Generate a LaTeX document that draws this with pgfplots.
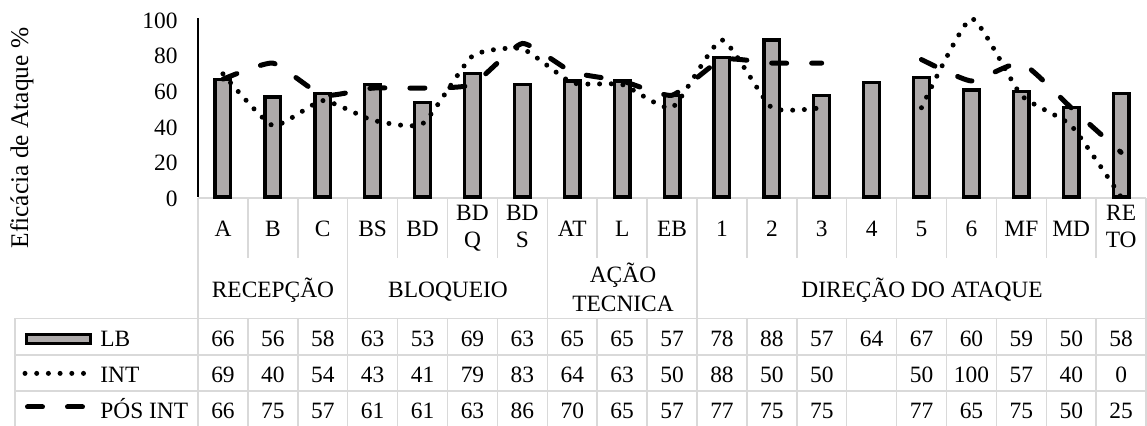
\documentclass[border=0pt]{standalone}
\usepackage{pgfplots}
\pgfplotsset{compat=1.18}
\usepackage{pgfplotstable}
\usepackage{fontspec}
\setmainfont{Liberation Serif}

\definecolor{barfill}{RGB}{174,170,170}
\definecolor{gridgray}{RGB}{217,217,217}

% Eficácia de ataque (%) por categoria: LB, INT e PÓS INT
\pgfplotstableread{
idx LB INT POS
0 66 69 66
1 56 40 75
2 58 54 57
3 63 43 61
4 53 41 61
5 69 79 63
6 63 83 86
7 65 64 70
8 65 63 65
9 57 50 57
10 78 88 77
11 88 50 75
12 57 50 75
13 64 nan nan
14 67 50 77
15 60 100 65
16 59 57 75
17 50 40 50
18 58 0 25
}\efftable

\newcommand\tfont{\fontsize{11.7}{14}\selectfont}
\def\nanval{nan}
\tikzset{
  intline/.style={black, line width=2.5pt, line cap=round, dash pattern=on 0pt off 5.85pt},
  posline/.style={black, line width=2.5pt, line cap=round, dash pattern=on 7.5pt off 12.5pt},
}

\begin{document}
\begin{tikzpicture}
\path[use as bounding box] (0pt,0pt) rectangle (573.5pt,213pt);

% grade da tabela de dados
\begin{scope}[gridgray, line width=0.75pt]
  \draw (99pt,114pt) -- (573pt,114pt);
  \draw (7.5pt,53.75pt) -- (573pt,53.75pt);
  \draw (7.5pt,35.5pt) -- (573pt,35.5pt);
  \draw (7.5pt,17.5pt) -- (573pt,17.5pt);
  \draw (7.5pt,0pt) -- (7.5pt,53.75pt);
  \draw (573pt,0pt) -- (573pt,114pt);
  \draw (99pt,0pt) -- (99pt,114pt);
  \foreach \k in {1,...,18} {
    \pgfmathsetmacro\xk{99+24.95*\k}
    \draw (\xk pt,114pt) -- (\xk pt,84pt);
    \draw (\xk pt,53.75pt) -- (\xk pt,0pt);
  }
  \foreach \k in {3,7,10} {
    \pgfmathsetmacro\xk{99+24.95*\k}
    \draw (\xk pt,84pt) -- (\xk pt,53.75pt);
  }
\end{scope}

\begin{axis}[
  at={(99pt,114.5pt)}, anchor=south west,
  width=474pt, height=89.25pt, scale only axis,
  xmin=-0.5, xmax=18.5, ymin=0, ymax=100,
  clip=false,
  hide x axis,
  axis y line*=left,
  y axis line style={black, line width=0.6pt},
  ytick={0,20,...,100},
  major tick length=0pt,
  yticklabel style={font=\tfont, anchor=east, inner sep=0pt, xshift=-10pt, yshift=-1pt},
  /pgf/number format/assume math mode=true,
  unbounded coords=jump,
]
\addplot[ybar, bar width=7.85pt, fill=barfill, draw=black, line width=1.65pt]
  table[x=idx, y=LB] {\efftable};
\addplot[intline, smooth, tension=0.3] table[x=idx, y=INT] {\efftable};
\addplot[posline, smooth, tension=0.3] table[x=idx, y=POS] {\efftable};
\end{axis}

% título do eixo vertical
\node[rotate=90, font=\fontsize{12.7}{15}\selectfont] at (11pt,144pt) {Eficácia de Ataque \%};

% rótulos das categorias
\begin{scope}[every node/.style={anchor=base, font=\tfont, inner sep=0pt}]
  \foreach \i/\lab in {0/A,1/B,2/C,3/BS,4/BD,7/AT,8/L,9/EB,10/1,11/2,12/3,13/4,14/5,15/6,16/MF,17/MD} {
    \pgfmathsetmacro\xc{99+24.95*(\i+0.5)}
    \node at (\xc pt,94.65pt) {\lab};
  }
  \foreach \i/\la/\lb in {5/BD/Q,6/BD/S,18/RE/TO} {
    \pgfmathsetmacro\xc{99+24.95*(\i+0.5)}
    \node at (\xc pt,102.7pt) {\la};
    \node at (\xc pt,89pt) {\lb};
  }
  % grupos
  \node at (136.5pt,64.3pt) {RECEPÇÃO};
  \node at (224pt,64.3pt) {BLOQUEIO};
  \node at (311.5pt,71.5pt) {AÇÃO};
  \node at (311.5pt,57.15pt) {TECNICA};
  \node at (461pt,64.3pt) {DIREÇÃO DO ATAQUE};

  % valores da tabela
  \foreach \i in {0,...,18} {
    \pgfmathsetmacro\xc{99+24.95*(\i+0.5)}
    \pgfplotstablegetelem{\i}{LB}\of\efftable
    \edef\cell{\pgfplotsretval}
    \node at (\xc pt,39.65pt) {\ifx\cell\nanval\else\cell\fi};
    \pgfplotstablegetelem{\i}{INT}\of\efftable
    \edef\cell{\pgfplotsretval}
    \node at (\xc pt,21.65pt) {\ifx\cell\nanval\else\cell\fi};
    \pgfplotstablegetelem{\i}{POS}\of\efftable
    \edef\cell{\pgfplotsretval}
    \node at (\xc pt,3.85pt) {\ifx\cell\nanval\else\cell\fi};
  }

  % legenda
  \node[anchor=base west] at (50pt,39.65pt) {LB};
  \node[anchor=base west] at (50pt,21.65pt) {INT};
  \node[anchor=base west] at (50pt,3.85pt) {PÓS INT};
\end{scope}
\draw[black, fill=barfill, line width=1.65pt] (13.25pt,41.25pt) rectangle (45.25pt,45.75pt);
\draw[intline] (12.5pt,26.3pt) -- (42.5pt,26.3pt);
\draw[posline] (13.75pt,9.5pt) -- (41.25pt,9.5pt);
\end{tikzpicture}
\end{document}
